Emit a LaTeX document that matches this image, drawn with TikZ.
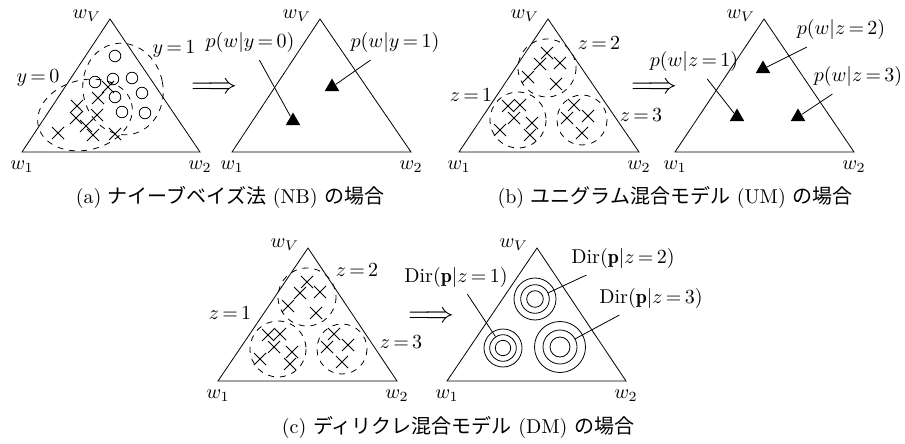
\documentclass[tikz,border=0pt]{standalone}
\usepackage{fontspec}
\newfontfamily\jfont{Noto Sans CJK JP}
\usetikzlibrary{positioning,shapes.geometric,shapes.misc}
\newcommand{\teq}{\,{=}\,}

\begin{document}
\begin{tikzpicture}[x=0.5pt, y=-0.5pt,
  xmark/.style={cross out, draw, inner sep=0pt, minimum size=5.6pt},
  omark/.style={circle, draw, inner sep=0pt, minimum size=5.8pt},
  peak/.style={regular polygon, regular polygon sides=3, fill, inner sep=0pt, minimum size=8.5pt},
  ring/.style={circle, draw, inner sep=0pt},
  imply/.style={inner sep=0pt, font=\Large},
  cls/.style={dashed}
]
\useasboundingbox (0,0) rectangle (905,444);

% simplex triangles with corner labels
\foreach \n/\xl/\xr/\xt/\yb/\yt in {na/22/200/110/152/19, np/232/411/320/152/19, ua/459/639/548/152/19, up/675/854/764/152/19, da/218/397/308/381/248, dp/447/626/537/381/248} {
  \coordinate (\n L) at (\xl,\yb);
  \coordinate (\n R) at (\xr,\yb);
  \coordinate (\n T) at (\xt,\yt);
  \draw (\n L) -- (\n R) -- (\n T) -- cycle;
  \node[below=1pt of \n L] (\n 1) {$w_1$};
  \node[below=1pt of \n R] (\n 2) {$w_2$};
  \node[left=1pt of \n T, yshift=1.5pt] (\n V) {$w_V$};
}

% (a) data
\draw[cls, rotate around={14:(85,115)}] (85,115) ellipse [x radius=48, y radius=35];
\draw[cls, rotate around={11:(123,89)}] (123,89) ellipse [x radius=40, y radius=46];
\foreach \x/\y [count=\i] in {115/56, 95/82, 113/79, 132/78, 115/97, 142/93, 122/112, 145/113}
  \node[omark] (o\i) at (\x,\y) {};
\foreach \x/\y [count=\i] in {108/87, 98/98, 77/106, 97/115, 76/118, 86/126, 58/133, 93/135, 115/134}
  \node[xmark] (x\i) at (\x,\y) {};
\node (y0) at (38,78) {$y\teq0$};
\node (y1) at (174,49) {$y\teq1$};
\node[imply] (ta) at (214,88) {$\Longrightarrow$};

% (a) parameters
\node (py0) at (250,43) {$p(w|y\teq0)$};
\node (py1) at (395,43) {$p(w|y\teq1)$};
\node[peak] (m0) at (293,121) {};
\node[peak] (m1) at (332,87) {};
\draw (py0) -- (m0);
\draw (py1) -- (m1);

% (b),(c) data: three clusters
\foreach \n/\ax/\ay in {ua/548/19, da/308/248} {
  \begin{scope}[shift={(\ax,\ay)}]
    \draw[cls] (-1,49) circle [radius=29];
    \draw[cls] (-30,101) circle [radius=28];
    \draw[cls] (34,101) circle [radius=25];
    \foreach \x/\y [count=\i] in {-1/34, -8/45, 12/44, -20/58, 8/65, -40/87, -28/86, -34/99, -16/104, -48/111, -18/116, 26/86, 40/97, 19/99, 34/114}
      \node[xmark] (\n x\i) at (\x,\y) {};
  \end{scope}
}
\node (uz1) at (471,95) {$z\teq1$};
\node (uz2) at (599,43) {$z\teq2$};
\node (uz3) at (641,115) {$z\teq3$};
\node[imply] (tb) at (654,88) {$\Longrightarrow$};
\node (dz1l) at (230,313) {$z\teq1$};
\node (dz2l) at (357,270) {$z\teq2$};
\node (dz3l) at (401,342) {$z\teq3$};
\node[imply] (tc) at (431,317) {$\Longrightarrow$};

% (b) parameters
\node (pz1) at (694,62) {$p(w|z\teq1)$};
\node (pz2) at (841,30) {$p(w|z\teq2)$};
\node (pz3) at (858,77) {$p(w|z\teq3)$};
\node[peak] (n1) at (737,117) {};
\node[peak] (n2) at (763,69) {};
\node[peak] (n3) at (798,117) {};
\draw (pz1) -- (n1);
\draw (pz2) -- (n2);
\draw (pz3) -- (n3);

% (c) Dirichlet components
\foreach \k/\x/\y/\ro/\rm/\ri in {1/503/348/19/13.3/7.7, 2/535/299/21/14.3/8.3, 3/560/347/25.5/17/10} {
  \node[ring, minimum size=\ro pt] (r\k o) at (\x,\y) {};
  \node[ring, minimum size=\rm pt] (r\k m) at (\x,\y) {};
  \node[ring, minimum size=\ri pt] (r\k i) at (\x,\y) {};
}
\node (dz1) at (456,277) {$\mathrm{Dir}(\mathbf{p}|z\teq1)$};
\node (dz2) at (623,258) {$\mathrm{Dir}(\mathbf{p}|z\teq2)$};
\node (dz3) at (651,298) {$\mathrm{Dir}(\mathbf{p}|z\teq3)$};
\draw (dz1) -- (r1m);
\draw (dz2) -- (r2m);
\draw (dz3) -- (r3m);

% captions
\node (capa) at (230,197) {(a) {\jfont ナイーブベイズ法} (NB) {\jfont の場合}};
\node (capb) at (675,197) {(b) {\jfont ユニグラム混合モデル} (UM) {\jfont の場合}};
\node (capc) at (458,427) {(c) {\jfont ディリクレ混合モデル} (DM) {\jfont の場合}};
\end{tikzpicture}
\end{document}
